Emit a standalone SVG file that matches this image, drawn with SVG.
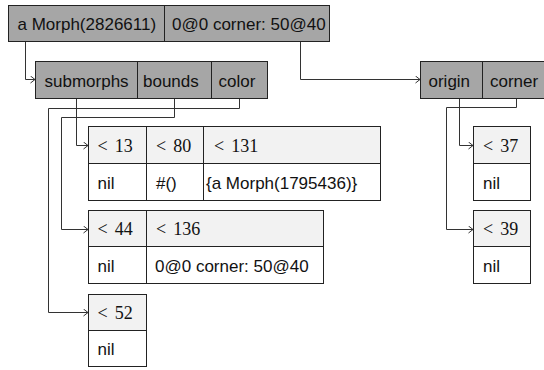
<svg xmlns="http://www.w3.org/2000/svg" width="544" height="370" viewBox="0 0 544 370">
<defs>
<style>
.bg{fill:#ffffff}
.dark{fill:#a6a6a6;stroke:#222222;stroke-width:1}
.head{fill:#f2f2f2;stroke:#222222;stroke-width:1}
.body{fill:#ffffff;stroke:#222222;stroke-width:1}
.div{stroke:#222222;stroke-width:1;fill:none}
.s{font-family:"Liberation Sans",Arial,sans-serif;font-size:17px;fill:#111111}
.n{font-family:"Liberation Serif","Times New Roman",serif;font-size:18px;word-spacing:2.5px;fill:#111111}
.c{fill:none;stroke:#333333;stroke-width:1}
</style>
<marker id="arr" markerWidth="8" markerHeight="10" refX="6" refY="4" orient="auto" markerUnits="userSpaceOnUse">
<path d="M1.5,0.5 L6,4 L1.5,7.5" fill="none" stroke="#333333" stroke-width="1"/>
</marker>
</defs>
<rect class="bg" x="0" y="0" width="544" height="370"/>
<g id="connectors">
<path class="c" d="M25.5,41.5 V79.5 H35" marker-end="url(#arr)"/>
<path class="c" d="M300.5,41.5 V79.5 H420" marker-end="url(#arr)"/>
<path class="c" d="M76.5,98.5 V145.5 H88" marker-end="url(#arr)"/>
<path class="c" d="M174.5,98.5 V117.5 H61.5 V229.5 H88" marker-end="url(#arr)"/>
<path class="c" d="M239.5,98.5 V108.5 H48.5 V312.5 H88" marker-end="url(#arr)"/>
<path class="c" d="M459.5,98.5 V145.5 H473" marker-end="url(#arr)"/>
<path class="c" d="M516.5,98.5 V107.5 H446.5 V229.5 H473" marker-end="url(#arr)"/>
</g>
<g id="morph">
<rect class="dark" x="8.5" y="5.5" width="321" height="36"/>
<line class="div" x1="164.5" y1="5.5" x2="164.5" y2="41.5"/>
<text class="s" x="17.5" y="30">a Morph(2826611)</text>
<text class="s" x="172" y="30">0@0 corner: 50@40</text>
</g>
<g id="morph-fields">
<rect class="dark" x="35.5" y="61.5" width="232" height="37"/>
<line class="div" x1="137.5" y1="61.5" x2="137.5" y2="98.5"/>
<line class="div" x1="211.5" y1="61.5" x2="211.5" y2="98.5"/>
<text class="s" x="44.5" y="86.5">submorphs</text>
<text class="s" x="143" y="86.5">bounds</text>
<text class="s" x="218.5" y="86.5">color</text>
</g>
<g id="rect-fields">
<rect class="dark" x="420.5" y="61.5" width="132" height="37"/>
<line class="div" x1="482.5" y1="61.5" x2="482.5" y2="98.5"/>
<text class="s" x="428.5" y="86.5">origin</text>
<text class="s" x="490" y="86.5">corner</text>
</g>
<g id="rec1">
<rect class="head" x="88.5" y="126.5" width="292" height="37"/>
<rect class="body" x="88.5" y="163.5" width="292" height="37"/>
<line class="div" x1="146.5" y1="126.5" x2="146.5" y2="200.5"/>
<line class="div" x1="203.5" y1="126.5" x2="203.5" y2="200.5"/>
<text class="n" x="97.5" y="151.5">&lt; 13</text>
<text class="n" x="156" y="151.5">&lt; 80</text>
<text class="n" x="214" y="151.5">&lt; 131</text>
<text class="s" x="97.5" y="188.5">nil</text>
<text class="s" x="156" y="188.5">#()</text>
<text class="s" x="206" y="188.5">{a Morph(1795436)}</text>
</g>
<g id="rec2">
<rect class="head" x="88.5" y="210.5" width="235" height="36"/>
<rect class="body" x="88.5" y="246.5" width="235" height="37"/>
<line class="div" x1="146.5" y1="210.5" x2="146.5" y2="283.5"/>
<text class="n" x="97.5" y="235">&lt; 44</text>
<text class="n" x="156" y="235">&lt; 136</text>
<text class="s" x="97.5" y="271.5">nil</text>
<text class="s" x="155" y="271.5">0@0 corner: 50@40</text>
</g>
<g id="rec3">
<rect class="head" x="88.5" y="294.5" width="58" height="36"/>
<rect class="body" x="88.5" y="330.5" width="58" height="36"/>
<text class="n" x="97.5" y="318.5">&lt; 52</text>
<text class="s" x="97.5" y="354.5">nil</text>
</g>
<g id="rec37">
<rect class="head" x="473.5" y="126.5" width="57" height="37"/>
<rect class="body" x="473.5" y="163.5" width="57" height="37"/>
<text class="n" x="483" y="151.5">&lt; 37</text>
<text class="s" x="483" y="188.5">nil</text>
</g>
<g id="rec39">
<rect class="head" x="473.5" y="210.5" width="57" height="36"/>
<rect class="body" x="473.5" y="246.5" width="57" height="37"/>
<text class="n" x="483" y="235">&lt; 39</text>
<text class="s" x="483" y="271.5">nil</text>
</g>
</svg>
